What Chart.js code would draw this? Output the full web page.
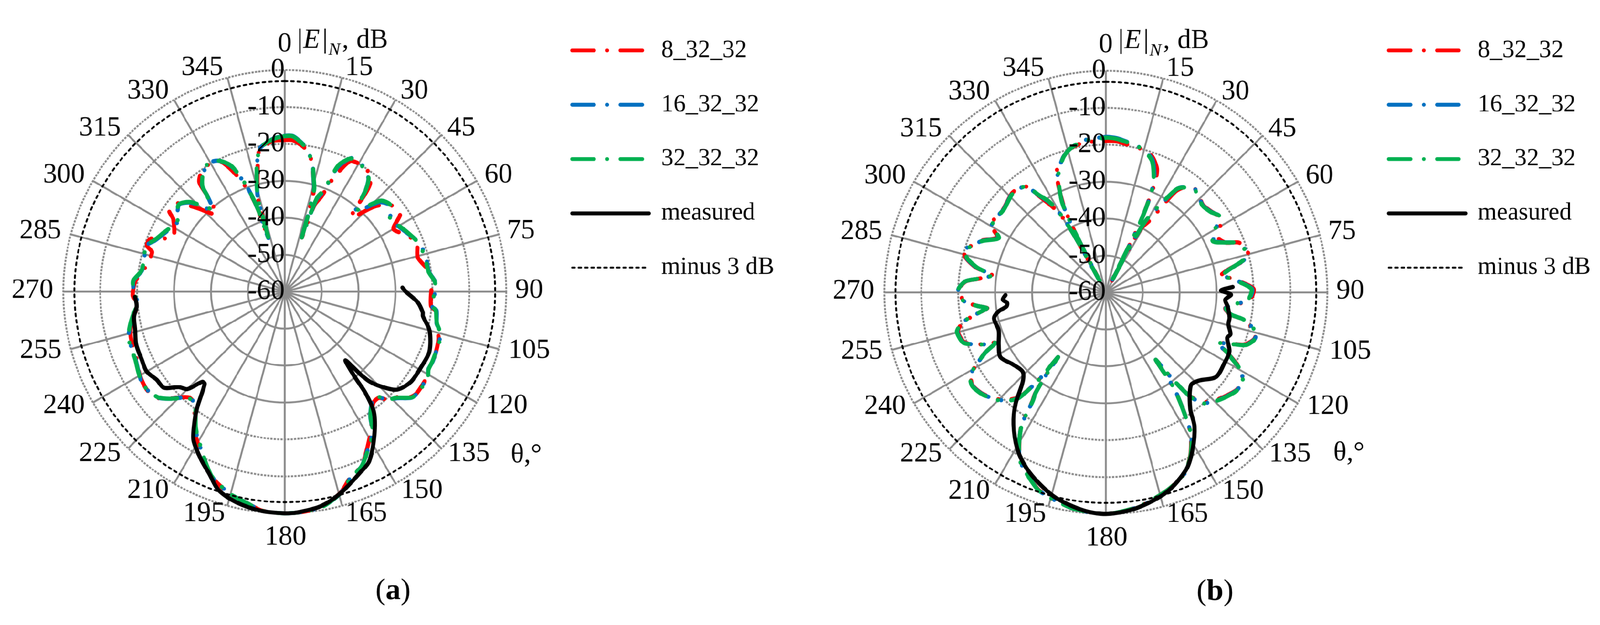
<!DOCTYPE html>
<html>
<head>
<meta charset="utf-8">
<title>Radiation patterns</title>
<script src="https://cdn.jsdelivr.net/npm/chart.js@4/dist/chart.umd.js"></script>
<style>
    html, body { margin: 0; padding: 0; background: #fff; overflow: hidden; }
    #wrap { position: absolute; left: 0; top: 0; width: 4248px; height: 1600px; transform-origin: 0 0; }
    canvas { position: absolute; top: 0; }
</style>
</head>
<body>
<div id="wrap">
    <canvas id="chartA" width="2124" height="1600" style="left:0;width:2124px;height:1600px"></canvas>
    <canvas id="chartB" width="2124" height="1600" style="left:2124px;width:2124px;height:1600px"></canvas>
</div>
<script>
// angle tick labels and radial tick labels
const angleLabels = ['0','15','30','45','60','75','90','105','120','135','150','165','180','195','210','225','240','255','270','285','300','315','330','345'];
const dbTicks = [-60, -50, -40, -30, -20, -10, 0];
const seriesNames = ['8_32_32', '16_32_32', '32_32_32', 'measured', 'minus 3 dB'];

// panel (a), values: angle in degrees, level in dB
const thetaA = [
    0,3,7,10,12.5,14,16,16.5,17,17.5,
    18,19,21,23,26.5,30.5,33.5,36.5,38.5,39.5,
    40.5,42,46.5,50.5,56,60,64.5,69.5,75.5,82,
    86,88.5,95.5,97,100,102,104,107,115,118.5,
    120.5,127.5,130,133.5,136.5,138.5,141.5,145.5,148,154,
    156.5,160.5,164.5,170,175,180,186,190,195.5,201.5,
    203,205.5,211.5,213.5,217,219.5,222,224,227,230,
    234,238,241.5,245.5,253.5,257.5,261.5,266,268.5,274,
    278.5,286.5,288.5,291.5,296,303,305,309.5,313.5,318.5,
    321,322,325,329.5,333.5,337,340,341,342,342.5,
    343,343.5,344,347.5,349,350,355.5
];
const redA = [
    -18.9,-18.9,-20.3,-22,-25.2,-28,-31.4,-35,-38.5,-44.6,
    -41,-35,-32.5,-27,-20.5,-19.9,-20.2,-20.7,-23,-26,
    -31,-33,-26.5,-23,-22.3,-26,-24,-21.8,-22.8,-20.4,
    -19.5,-20.2,-20.2,-19,-17.9,-18,-17.5,-16.4,-15.6,-15.8,
    -15.1,-14.9,-15.6,-18.5,-19.8,-21.6,-21.5,-18.6,-15.8,-10.4,
    -8.3,-6.7,-3.5,-1,-0.2,0,-0.4,-1.8,-3.3,-6,
    -7.1,-9.1,-13.9,-15.6,-19.4,-21.2,-21.4,-20.3,-17.6,-15.2,
    -14.2,-14.4,-15,-15.9,-16.5,-17.3,-19,-19.8,-18.8,-19.4,
    -21.3,-22.5,-20.6,-20.9,-26.3,-24,-21.8,-22.3,-27,-32,
    -27,-22.4,-20.6,-19.8,-20.4,-25,-30.5,-33,-36.7,-42,
    -44.8,-40,-33.5,-26,-22.4,-20.9,-19
];
const blueA = [
    -17.8,-17.8,-19.7,-22.1,-24.9,-28,-31.3,-35,-38.5,-44.6,
    -40.5,-33.5,-31,-23.4,-19.6,-19.6,-20.5,-21.9,-24.8,-27.4,
    -30.3,-30.8,-24.8,-23.2,-25.3,-24.5,-23.2,-21.4,-20.6,-20.6,
    -19.2,-18.9,-20,-18.6,-18.2,-17.9,-16.7,-16.1,-15.7,-15.8,
    -15,-14.8,-15.3,-18.1,-19.5,-21.9,-21.9,-19.1,-15.2,-10.2,
    -8.2,-6.6,-3.4,-0.9,-0.2,0,-0.4,-1.8,-3.4,-6.1,
    -7.2,-9.4,-14.4,-16.2,-19.7,-21.3,-21.3,-20.1,-17.5,-15.3,
    -14.3,-14.2,-14.9,-15.6,-15.9,-17.1,-18.6,-20.1,-19.3,-18.9,
    -20.9,-20.6,-20.4,-22.2,-23.8,-25.4,-24.5,-22.9,-25,-30.4,
    -26.8,-23.7,-21.3,-19.5,-20.4,-23.2,-29.4,-32.4,-36.7,-42,
    -44.8,-40,-33.4,-25,-22.3,-20.6,-18.5
];
const greenA = [
    -17.9,-17.9,-19.8,-22.1,-24.9,-27.8,-31,-35,-38.5,-44.6,
    -40,-33,-30.6,-22.8,-19.7,-19.9,-20.5,-21.8,-24.7,-27.3,
    -30,-30.2,-24.2,-23,-25.5,-24.3,-23,-21.6,-20.9,-20.7,
    -19.3,-19.1,-20,-18.8,-18.3,-17.8,-16.8,-16,-15.8,-15.7,
    -15,-14.6,-15.4,-18.3,-19.6,-22,-21.8,-19,-15,-10.1,
    -8.2,-6.5,-3.4,-0.9,-0.2,0,-0.4,-1.8,-3.4,-6.2,
    -7.4,-9.6,-14.6,-16.3,-19.8,-21.2,-21.2,-20,-17.5,-15.4,
    -14.3,-14.2,-14.8,-15.5,-15.8,-17,-18.5,-20.2,-19.4,-18.8,
    -20.8,-20.5,-20.3,-22,-23.5,-25.3,-24.4,-22.8,-24.7,-29.9,
    -26.6,-23.8,-21.3,-19.4,-20.4,-23,-29.1,-32.3,-36.7,-42,
    -44.8,-40,-33.3,-24.9,-22.2,-20.5,-18.6
];
const measuredThetaA = [
    88,90,94.5,98.5,100,105,112.5,119,125.5,131,
    134,136.5,137.5,138.5,140.5,141.5,143.5,148,153.5,157,
    164.5,170.5,177,180,186,193,198.5,202.5,206.5,211.5,
    214,217,221,222.5,225,228,231.5,235.5,240,244.5,
    250.5,256,260.5,264.5,268
];
const measuredA = [
    -28.1,-27.2,-23.9,-22.2,-22,-19.4,-17.6,-17.8,-18,-19.6,
    -22.7,-26.3,-29.6,-35.2,-30.5,-24.7,-19.4,-14.2,-8.7,-7.1,
    -3.4,-1.1,-0.1,0,-0.3,-1.5,-3.4,-6.6,-9.2,-12.7,
    -16,-20.5,-26.9,-26.9,-22.7,-21.4,-18.2,-17.9,-16.8,-17.1,
    -17.3,-18.2,-18.6,-19.7,-19.4
];

// panel (b)
const thetaB = [
    0,4,8,12,16.5,19.5,22.5,24,25,26,
    26.5,27,28,29,31.5,34.5,37,40.5,44.5,48,
    52.5,56,57.5,61,64.5,67.5,69.5,74,76.5,79.5,
    82,83,88.5,93,95.5,97.5,100,101,102.5,105,
    107.5,110.5,112,114.5,116,118,119.5,122.5,126.5,130.5,
    134,138.5,140.5,141.5,142.5,143.5,144.5,146.5,149,152.5,
    156.5,162.5,171,180,189,198.5,202.5,207,210,212.5,
    214,215,216,216.5,217.5,219.5,222,225.5,230.5,235,
    238,239.5,243.5,245.5,247,250.5,255,256.5,258.5,261.5,
    262.5,264,266.5,271,274.5,276,278.5,279.5,281,284,
    287,288.5,292.5,297,300,302.5,309,316.5,320,323,
    325.5,328,330,331,331.5,332,332.5,333,334,336,
    338,342.5,346,351.5
];
const redB = [
    -19,-19,-19.5,-19.8,-20.2,-21.5,-23.8,-27,-32.6,-38,
    -45,-57.5,-45,-40,-37,-27,-24.2,-23,-23.8,-24.6,
    -24,-23,-22.8,-24.8,-26.1,-24.8,-21.5,-20,-20.8,-26.4,
    -28.8,-26.6,-20,-21,-25,-27.4,-25.8,-22.4,-20.4,-17.9,
    -17.9,-19.8,-22.8,-26.8,-23.9,-20.6,-18.2,-16.1,-15.8,-17,
    -18.2,-20.3,-23,-25.6,-31,-37.3,-28.5,-22.2,-15.4,-10.4,
    -6.6,-4,-1.4,0,-0.9,-3.4,-5.9,-8.9,-13.1,-17.5,
    -24.3,-26.6,-32.9,-38.2,-30.4,-23.4,-21,-18.8,-16.8,-16,
    -16.8,-18,-23.4,-27.1,-24,-19.4,-18.5,-19.1,-20.8,-26.2,
    -27.6,-25,-21.6,-20.1,-21.9,-25,-28.9,-27.2,-24,-20.8,
    -19.8,-21,-23.4,-27,-24.2,-23.8,-24.2,-23,-23.2,-24.1,
    -28.6,-32.5,-36.5,-42,-50,-56.4,-48,-40,-34,-28.5,
    -24.5,-21.6,-19.9,-19
];
const blueB = [
    -17.9,-18.1,-18.8,-19.4,-20.6,-22,-25.6,-28.9,-32.3,-38,
    -45,-57.5,-45,-38.2,-33,-26,-24.2,-23,-23.9,-24.7,
    -24.1,-22.9,-23.8,-26.2,-27.6,-24.6,-21.8,-20.2,-21.2,-26.1,
    -28.6,-26.7,-20.4,-21.3,-25.3,-27.3,-25.6,-22.2,-20.2,-17.8,
    -17.8,-19.5,-22.6,-26.8,-23.8,-20.9,-18.4,-16,-15.7,-16.8,
    -18,-20,-22.7,-25.5,-31,-37.3,-28.3,-22.3,-15.2,-10.2,
    -6.5,-3.9,-1.3,0,-0.9,-3.3,-5.8,-8.8,-13,-17.6,
    -24.6,-26.8,-32.9,-38.2,-30.3,-23.1,-20.7,-18.6,-16.7,-15.9,
    -16.7,-18,-23.5,-27.1,-24,-19.2,-18.3,-19,-20.7,-26.1,
    -27.5,-25,-21.5,-20,-21.8,-24.9,-28.9,-27.3,-24.2,-21,
    -19.9,-21.1,-23.6,-27.3,-24.3,-23.9,-24.3,-23.1,-23.4,-24,
    -28.2,-31.3,-36,-42,-50,-56.4,-48,-40,-33.3,-28.8,
    -25.2,-21.6,-19.9,-18.4
];
const greenB = [
    -18.1,-18.3,-18.9,-19.4,-20.8,-22.4,-26.1,-28.9,-32.2,-38,
    -45,-57.5,-45,-38,-32.5,-26,-24.4,-23.2,-24,-24.8,
    -24.2,-22.9,-23.9,-26.5,-27.9,-24.7,-21.8,-20.4,-21.4,-26,
    -28.5,-26.8,-20.6,-21.5,-25.5,-27.2,-25.6,-22.2,-20.1,-17.8,
    -17.7,-19.4,-22.5,-26.8,-23.8,-21,-18.5,-16,-15.6,-16.7,
    -17.9,-19.9,-22.6,-25.5,-31,-37.3,-28.3,-22.4,-15.2,-10.3,
    -6.6,-4,-1.4,0,-0.9,-3.3,-5.7,-8.8,-13,-17.7,
    -24.7,-26.9,-32.9,-38.2,-30.2,-23,-20.6,-18.5,-16.6,-15.8,
    -16.6,-17.9,-23.5,-27.1,-24,-19.1,-18.2,-18.9,-20.6,-26.1,
    -27.5,-25,-21.4,-20,-21.8,-24.9,-28.9,-27.4,-24.4,-21.2,
    -20,-21.2,-23.7,-27.5,-24.4,-24,-24.4,-23.2,-23.5,-24,
    -28,-31,-36,-42,-50,-56.4,-48,-40,-33,-29,
    -25.6,-21.7,-19.9,-18.6
];
const measuredThetaB = [
    87.5,89,91,93.5,96.5,101.5,104.5,108.5,110.5,115.5,
    121,127.5,133.5,137.5,144,146.5,151,155.5,163,172,
    180,186,193.5,199,204.5,209.5,215,219,223,226.5,
    232.5,238.5,244,250.5,257,260,262,264,266,268.5
];
const measuredB = [
    -25.6,-28.8,-26.1,-27.6,-26.8,-25.8,-25.7,-24.4,-24.9,-22.9,
    -22.6,-22.4,-25.3,-25.9,-21.1,-16.5,-11.5,-7.4,-3.5,-1,
    0,-0.7,-2.7,-5.1,-7.9,-11.3,-16.4,-21.1,-27,-28.9,
    -28.1,-26.5,-27.7,-29.2,-28.9,-30.5,-32.8,-33.1,-32,-32.8
];

const SERIF = '"Liberation Serif"';
const RED = '#ff0000', BLUE = '#0070c0', GREEN = '#00b050', GRID = '#8c8c8c';
const DASH_DOT = [58, 35, 0.1, 35];
const DASH_3DB = [7, 10];
const PAGE_W = 4248, PAGE_H = 1600;

// the window can come up narrower than asked (4096 here), so the whole
// layout is shrunk to fit and the canvases are rendered at that same ratio
const fit = Math.min(1, window.innerWidth / PAGE_W, window.innerHeight / PAGE_H);
const wrap = document.getElementById('wrap');
wrap.style.transform = 'scale(' + fit + ')';
wrap.style.top = Math.round((window.innerHeight - PAGE_H * fit) / 2) + 'px';

// half degree steps, only multiples of 15 get a spoke and a label
const STEPS_PER_DEG = 2;
const spokeLabels = [];
for (let i = 0; i < 360 * STEPS_PER_DEG; i++) {
    spokeLabels.push(i % (15 * STEPS_PER_DEG) === 0 ? String(i / STEPS_PER_DEG) : '');
}

// where the middle of each angle label sits, from the end of its spoke
const labelOffsets = [
    [0,-69],[45,-26],[50,-23],[53,-18],[58,-15],[59,-9],[61,-3],[81,4],
    [80,9],[73,14],[70,19],[64,21],[2,64],[-62,21],[-69,19],[-75,14],
    [-77,9],[-80,4],[-82,-3],[-81,-9],[-77,-15],[-75,-18],[-69,-23],[-67,-26]
];

function toRadar(theta, values) {
    const data = spokeLabels.map(() => null);
    theta.forEach((t, i) => { data[Math.round(t * STEPS_PER_DEG)] = values[i]; });
    return data;
}

// the radar controller always closes its line, the measured curve is open
const openLinePlugin = {
    id: 'openLine',
    afterDatasetUpdate(chart, args) {
        const ds = chart.data.datasets[args.index];
        if (ds.openLine) {
            args.meta.dataset._loop = false;
            args.meta.dataset._fullLoop = false;
        }
    }
};

const legendPlugin = {
    id: 'legendPlace',
    beforeDraw(chart) {
        const place = chart.options.plugins.panel;
        const legend = chart.legend;
        legend.left = place.legendLeft;
        legend.top = place.legendTop;
        legend.right = chart.width;
        legend.bottom = chart.height;
    }
};

function drawRuns(ctx, runs, x, y) {
    let cursor = x;
    runs.forEach(run => {
        ctx.font = run.font;
        ctx.fillText(run.text, cursor, y);
        cursor += ctx.measureText(run.text).width;
    });
}

const textPlugin = {
    id: 'panelText',
    afterDraw(chart) {
        const ctx = chart.ctx;
        const scale = chart.scales.r;
        const panel = chart.options.plugins.panel;
        const cx = scale.xCenter, cy = scale.yCenter;
        ctx.save();
        ctx.fillStyle = '#000';

        // dB labels end at the vertical spoke
        ctx.font = '74px ' + SERIF;
        ctx.textAlign = 'right';
        ctx.textBaseline = 'middle';
        dbTicks.forEach(v => {
            ctx.fillText(String(v), cx, cy - scale.getDistanceFromCenterForValue(v));
        });

        ctx.textAlign = 'center';
        angleLabels.forEach((label, i) => {
            const pos = scale.getPointPosition(i * 15 * STEPS_PER_DEG, scale.drawingArea);
            ctx.fillText(label, pos.x + labelOffsets[i][0], pos.y + labelOffsets[i][1]);
        });

        // axis name with the italic parts
        ctx.textAlign = 'left';
        ctx.textBaseline = 'alphabetic';
        ctx.font = '72px ' + SERIF;
        ctx.fillText('|', cx + 33, cy - 648);
        ctx.fillText('|', cx + 100, cy - 648);
        ctx.fillText(',', cx + 152, cy - 648);
        ctx.fillText('dB', cx + 190, cy - 648);
        ctx.font = 'italic 72px ' + SERIF;
        ctx.fillText('E', cx + 49, cy - 648);
        ctx.font = 'italic 47px ' + SERIF;
        ctx.fillText('N', cx + 116, cy - 629);

        ctx.font = '73px ' + SERIF;
        ctx.fillText('θ,°', cx + panel.thetaX, cy + panel.thetaY);

        drawRuns(ctx, [
            { text: '(', font: '80px ' + SERIF },
            { text: panel.caption, font: 'bold 80px ' + SERIF },
            { text: ')', font: '80px ' + SERIF }
        ], cx + 241, cy + 816);
        ctx.restore();
    }
};

function simSeries(name, color, theta, values, order) {
    return {
        label: name,
        data: toRadar(theta, values),
        borderColor: color,
        borderWidth: 11,
        borderDash: DASH_DOT,
        borderCapStyle: 'round',
        borderJoinStyle: 'round',
        backgroundColor: 'transparent',
        pointRadius: 0,
        spanGaps: true,
        tension: 0.25,
        fill: false,
        clip: false,
        order: order
    };
}

function legendItems() {
    const styles = [
        { color: RED, width: 10, dash: DASH_DOT },
        { color: BLUE, width: 10, dash: DASH_DOT },
        { color: GREEN, width: 10, dash: DASH_DOT },
        { color: '#000', width: 10, dash: [] },
        { color: '#000', width: 5, dash: DASH_3DB }
    ];
    return seriesNames.map((name, i) => ({
        text: name,
        fillStyle: 'transparent',
        strokeStyle: styles[i].color,
        fontColor: '#000',
        lineWidth: styles[i].width,
        lineDash: styles[i].dash,
        lineCap: 'round',
        pointStyle: 'line',
        hidden: false,
        datasetIndex: i
    }));
}

function makeChart(id, panel, theta, red, blue, green, measuredTheta, measured) {
    new Chart(document.getElementById(id), {
        type: 'radar',
        data: {
            labels: spokeLabels,
            datasets: [
                simSeries(seriesNames[0], RED, theta, red, 4),
                simSeries(seriesNames[1], BLUE, theta, blue, 3),
                simSeries(seriesNames[2], GREEN, theta, green, 2),
                {
                    label: seriesNames[3],
                    data: toRadar(measuredTheta, measured),
                    borderColor: '#000',
                    borderWidth: 11,
                    borderCapStyle: 'round',
                    borderJoinStyle: 'round',
                    backgroundColor: 'transparent',
                    pointRadius: 0,
                    spanGaps: true,
                    tension: 0.3,
                    fill: false,
                    clip: false,
                    openLine: true,
                    order: 0
                },
                {
                    label: seriesNames[4],
                    data: spokeLabels.map(() => -3),
                    borderColor: '#000',
                    borderWidth: 5,
                    borderDash: DASH_3DB,
                    borderCapStyle: 'round',
                    backgroundColor: 'transparent',
                    pointRadius: 0,
                    fill: false,
                    clip: false,
                    order: 1
                }
            ]
        },
        options: {
            responsive: false,
            animation: false,
            devicePixelRatio: fit,
            layout: { padding: panel.padding },
            scales: {
                r: {
                    min: -60,
                    max: 0,
                    ticks: { stepSize: 10, display: false },
                    pointLabels: { display: false },
                    grid: { circular: true, color: GRID, lineWidth: 5 },
                    border: {
                        dash: ctx => (ctx.tick && ctx.tick.value > -30 ? [6, 3] : []),
                    },
                    angleLines: {
                        color: GRID,
                        lineWidth: ctx => (ctx.index % (15 * STEPS_PER_DEG) === 0 ? 5 : 0)
                    }
                }
            },
            plugins: {
                title: { display: false },
                tooltip: { enabled: false },
                panel: panel,
                legend: {
                    position: 'chartArea',
                    align: 'start',
                    labels: {
                        usePointStyle: true,
                        pointStyleWidth: 204,
                        padding: 79,
                        color: '#000',
                        font: { family: SERIF, size: 65 },
                        generateLabels: legendItems
                    }
                }
            }
        },
        plugins: [openLinePlugin, legendPlugin, textPlugin]
    });
}

makeChart('chartA', {
    padding: { left: 168, right: 780, top: 156, bottom: 268 },
    legendLeft: 1440,
    legendTop: -7.5,
    thetaX: 600,
    thetaY: 453,
    caption: 'a'
}, thetaA, redA, blueA, greenA, measuredThetaA, measuredA);

makeChart('chartB', {
    padding: { left: 224, right: 724, top: 158, bottom: 266 },
    legendLeft: 1484,
    legendTop: -7.5,
    thetaX: 604,
    thetaY: 446,
    caption: 'b'
}, thetaB, redB, blueB, greenB, measuredThetaB, measuredB);
</script>
</body>
</html>
